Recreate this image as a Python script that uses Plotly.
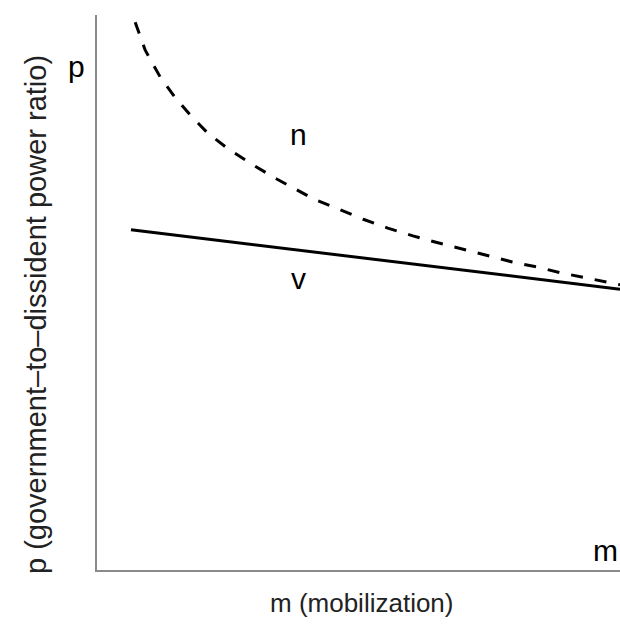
import plotly.graph_objects as go

# dashed curve n (mobilization vs. power ratio)
n_m = [0.73, 0.92, 1.21, 1.49, 1.78, 2.12, 2.49, 2.93, 3.37, 3.79, 4.13, 4.65,
       5.09, 5.56, 6.04, 6.50, 6.98, 7.46, 7.94, 8.41, 8.89, 9.37, 9.85, 10.0]
n_p = [9.87, 9.37, 8.88, 8.52, 8.20, 7.87, 7.60, 7.33, 7.08, 6.87, 6.69, 6.49,
       6.32, 6.16, 6.02, 5.90, 5.78, 5.66, 5.55, 5.46, 5.35, 5.26, 5.17, 5.14]

# solid line v
v_m = [0.65, 10.0]
v_p = [6.13, 5.06]

labels = ["n", "v", "m", "p"]
label_m = [3.85, 3.85]
label_p = [7.84, 5.25]

fig = go.Figure()

fig.add_trace(go.Scatter(x=n_m, y=n_p, mode="lines",
                         line=dict(color="black", width=3, dash="12px,12px"),
                         showlegend=False, hoverinfo="skip"))
fig.add_trace(go.Scatter(x=v_m, y=v_p, mode="lines",
                         line=dict(color="black", width=3),
                         showlegend=False, hoverinfo="skip"))

font_lbl = dict(family="Liberation Sans, Arial", size=30, color="black")
for t, xm, yp in zip(labels[:2], label_m, label_p):
    fig.add_annotation(x=xm, y=yp, text=t, showarrow=False, font=font_lbl)

# "m" in the bottom right corner, "p" outside the plot left of the y axis
fig.add_annotation(x=1.0, y=0.035, xref="paper", yref="paper", xanchor="right",
                   yanchor="middle", text=labels[2], showarrow=False, font=font_lbl)
fig.add_annotation(x=-0.06, y=0.908, xref="paper", yref="paper", yanchor="middle",
                   text=labels[3], showarrow=False, font=font_lbl)

font_title = dict(family="Liberation Sans, Arial", size=26, color="#222")
fig.add_annotation(x=0.507, y=-0.0595, xref="paper", yref="paper", yanchor="middle",
                   text="m (mobilization)", showarrow=False, font=font_title)
fig.add_annotation(x=-0.118, y=0.46, xref="paper", yref="paper", xanchor="center",
                   yanchor="middle",
                   text="p (government\u2013to\u2013dissident power ratio)",
                   textangle=-90, showarrow=False,
                   font=dict(family="Liberation Sans, Arial", size=29, color="#222"))

axis_style = dict(showgrid=False, zeroline=False, showticklabels=False, ticks="",
                  showline=True, linecolor="#8a8a8a", linewidth=1.5)
fig.update_xaxes(range=[0, 10], **axis_style)
fig.update_yaxes(range=[0, 10], **axis_style)

fig.update_layout(
    width=620, height=624,
    margin=dict(l=97, r=0, t=15, b=54),
    plot_bgcolor="white", paper_bgcolor="white",
)

# page body has a default 8px margin; drop it so the figure fills the window
fig.write_html("out.html", config={"displayModeBar": False},
               post_script="document.body.style.margin='0';")
